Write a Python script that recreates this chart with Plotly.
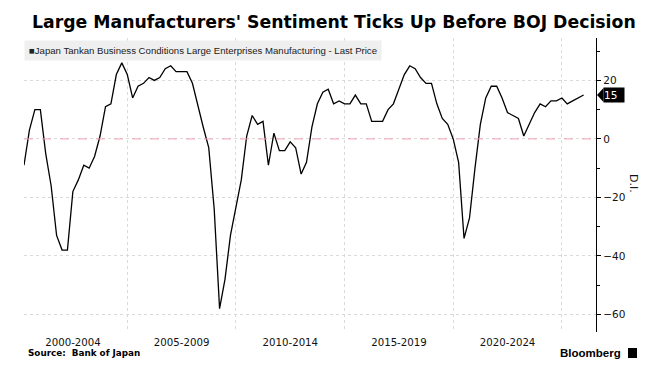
import plotly.graph_objects as go

# ---- data (quarterly, Mar 2000 .. Dec 2025) ----
start_year = 2000
di_values = [
    -9, 3, 10, 10,        # 2000
    -5, -16, -33, -38,    # 2001
    -38, -18, -14, -9,    # 2002
    -10, -6, 1, 11,       # 2003
    12, 22, 26, 22,       # 2004
    14, 18, 19, 21,       # 2005
    20, 21, 24, 25,       # 2006
    23, 23, 23, 19,       # 2007
    11, 4, -3, -24,       # 2008
    -58, -48, -33, -23,   # 2009
    -14, 1, 8, 5,         # 2010
    6, -9, 2, -4,         # 2011
    -4, -1, -3, -12,      # 2012
    -8, 4, 12, 16,        # 2013
    17, 12, 13, 12,       # 2014
    12, 15, 12, 12,       # 2015
    6, 6, 6, 10,          # 2016
    12, 17, 22, 25,       # 2017
    24, 21, 19, 19,       # 2018
    12, 7, 5, 0,          # 2019
    -8, -34, -27, -10,    # 2020
    5, 14, 18, 18,        # 2021
    14, 9, 8, 7,          # 2022
    1, 5, 9, 12,          # 2023
    11, 13, 13, 14,       # 2024
    12, 13, 14, 15,       # 2025
]
month_end = {3: 31, 6: 30, 9: 30, 12: 31}
dates = []
for i in range(len(di_values)):
    y = start_year + i // 4
    m = 3 * (i % 4) + 3
    dates.append(f"{y}-{m:02d}-{month_end[m]}")

period_labels = ["2000-2004", "2005-2009", "2010-2014", "2015-2019", "2020-2024"]
period_mid = ["2002-07-02", "2007-07-02", "2012-07-02", "2017-07-02", "2022-07-02"]
period_bounds = ["2005-01-01", "2010-01-01", "2015-01-01", "2020-01-01", "2025-01-01"]
y_ticks = [-60, -40, -20, 0, 20]
y_range = [-66, 34.5]

title_text = "Large Manufacturers' Sentiment Ticks Up Before BOJ Decision"
series_name = "Japan Tankan Business Conditions Large Enterprises Manufacturing - Last Price"

# The page body adds an 8px offset, so the figure is sized to fill the rest.
PAGE = 8
W, H = 656 - PAGE, 375 - PAGE
PL, PR, PT, PB = 24, 596, 38, 332          # plot area in window pixels
ML, MT = PL - PAGE, PT - PAGE
MR, MB = (W + PAGE) - PR, (H + PAGE) - PB
plot_w = PR - PL
plot_h = PB - PT


def px_x(x):
    return (x - PL) / plot_w


def px_y(y):
    return (PB - y) / plot_h


fig = go.Figure()
fig.add_trace(go.Scatter(
    x=dates, y=di_values, mode="lines",
    line=dict(color="black", width=1.3),
    name=series_name, showlegend=False, hoverinfo="x+y",
))

grid_col = "#dadada"
fig.update_layout(
    width=W, height=H,
    margin=dict(l=ML, r=MR, t=MT, b=MB, pad=0),
    paper_bgcolor="white", plot_bgcolor="white",
    font=dict(family="DejaVu Sans", color="black", size=10),
    title=dict(
        text=title_text,
        font=dict(family="DejaVu Sans", size=17.3, color="black", weight="bold"),
        x=(32 - PAGE) / W, xanchor="left", xref="container",
        y=1 - (21.5 - PAGE) / H, yanchor="middle", yref="container",
    ),
    xaxis=dict(
        type="date",
        range=["2000-03-31", "2026-07-27"],
        tickmode="array", tickvals=period_mid, ticktext=period_labels,
        showgrid=False, ticks="", showline=False, zeroline=False,
        ticklabelstandoff=3,
        tickfont=dict(family="DejaVu Sans", size=10.2, color="#111111"),
        minor=dict(tickmode="array", tickvals=period_bounds, showgrid=True,
                   gridcolor=grid_col, griddash="dot", gridwidth=1, ticks=""),
    ),
    yaxis=dict(
        side="right", range=y_range,
        tickmode="array", tickvals=y_ticks,
        showgrid=True, gridcolor=grid_col, griddash="dot", gridwidth=1,
        zeroline=False,
        showline=True, linecolor="black", linewidth=1.3,
        ticks="outside", ticklen=4, tickcolor="black", tickwidth=1,
        tickfont=dict(family="DejaVu Sans", size=10.5, color="#111111"),
        minor=dict(dtick=10, tick0=0, ticks="outside", ticklen=3,
                   tickcolor="black", showgrid=False),
    ),
)

fig.add_hline(y=0, line=dict(color="#f4a3b5", width=1, dash="dash"), layer="above")

# legend-like header box
fig.add_annotation(
    xref="paper", yref="paper", x=0, y=px_y(40), xanchor="left", yanchor="top",
    text="■" + series_name, showarrow=False, align="left",
    font=dict(family="Liberation Sans", size=9.6, color="#222222"),
    bgcolor="#efefef", borderpad=4,
)

# axis title
fig.add_annotation(
    xref="paper", yref="paper", x=px_x(634), y=px_y(183), xanchor="center", yanchor="middle",
    text="D.I.", textangle=90, showarrow=False,
    font=dict(family="DejaVu Sans", size=11, color="#111111"),
)

# last value tag
last_v = di_values[-1]
half = 7 / (plot_h / (y_range[1] - y_range[0]))
tip = 1 + 1 / plot_w
base = 1 + 7.5 / plot_w
fig.add_shape(
    type="path", xref="paper", yref="y",
    path=f"M {tip},{last_v} L {base},{last_v + half} L {base},{last_v - half} Z",
    fillcolor="black", line=dict(width=0),
)
fig.add_annotation(
    xref="paper", yref="y", x=1, y=last_v, xanchor="left", yanchor="middle",
    xshift=7, text=str(last_v), showarrow=False, align="left",
    width=20, height=14,
    font=dict(family="DejaVu Sans", size=10.5, color="white"),
    bgcolor="black", borderpad=0,
)

# source + branding
fig.add_annotation(
    xref="paper", yref="paper", x=px_x(26), y=px_y(353),
    xanchor="left", yanchor="middle", text="<b>Source:  Bank of Japan</b>",
    showarrow=False, font=dict(family="DejaVu Sans", size=8.8, color="black"),
)
fig.add_annotation(
    xref="paper", yref="paper", x=px_x(623), y=px_y(353),
    xanchor="right", yanchor="middle", text="<b>Bloomberg</b>",
    showarrow=False, font=dict(family="Liberation Sans", size=11.5, color="black"),
)
fig.add_shape(
    type="rect", xref="paper", yref="paper",
    x0=px_x(628), x1=px_x(637), y0=px_y(358), y1=px_y(348),
    fillcolor="black", line=dict(width=0),
)

fig.write_html("out.html")
